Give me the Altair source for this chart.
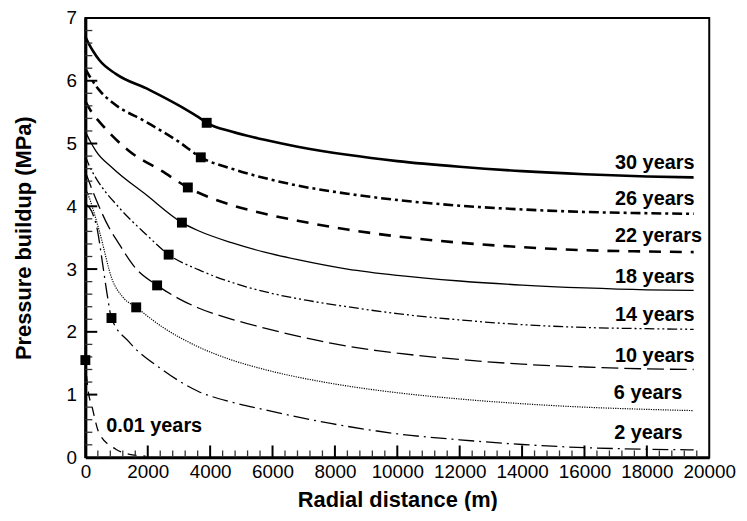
import altair as alt
import pandas as pd

# ---- data ----
x30 = [0, 120, 250, 445, 976, 2035, 3094, 3625, 3890, 4685, 5745, 6805, 8400, 10000, 12000, 14000, 16000, 18000, 19500]
y30 = [6.70, 6.58, 6.47, 6.33, 6.11, 5.86, 5.58, 5.42, 5.33, 5.19, 5.06, 4.95, 4.82, 4.72, 4.63, 4.56, 4.51, 4.475, 4.46]

x26 = [0, 200, 445, 900, 1930, 2990, 3700, 4685, 5745, 6805, 8400, 10000, 12000, 14000, 16000, 18000, 19500]
y26 = [6.19, 6.02, 5.85, 5.64, 5.35, 5.03, 4.78, 4.60, 4.45, 4.33, 4.20, 4.10, 4.01, 3.95, 3.91, 3.89, 3.88]

x22 = [0, 200, 445, 1400, 2460, 3285, 3940, 4685, 5745, 6805, 8400, 10000, 12000, 14000, 16000, 18000, 19500]
y22 = [5.67, 5.50, 5.35, 4.88, 4.56, 4.30, 4.15, 4.02, 3.88, 3.77, 3.63, 3.52, 3.42, 3.35, 3.30, 3.28, 3.27]

x18 = [0, 150, 340, 870, 1930, 3095, 3625, 4685, 5745, 6805, 8400, 10000, 12000, 14000, 16000, 18000, 19500]
y18 = [5.19, 5.04, 4.88, 4.61, 4.19, 3.74, 3.61, 3.42, 3.27, 3.15, 3.00, 2.90, 2.81, 2.745, 2.70, 2.67, 2.66]

x14 = [0, 150, 340, 1080, 1930, 2670, 3625, 5000, 6000, 7125, 8400, 10000, 12000, 14000, 16000, 18000, 19500]
y14 = [4.80, 4.62, 4.45, 3.98, 3.56, 3.23, 2.99, 2.74, 2.61, 2.50, 2.40, 2.29, 2.19, 2.115, 2.07, 2.05, 2.04]

x10 = [0, 150, 350, 760, 1080, 1600, 2300, 2990, 3625, 4700, 5745, 7865, 9350, 10000, 12000, 14000, 16000, 18000, 19500]
y10 = [4.55, 4.35, 4.10, 3.66, 3.40, 3.02, 2.74, 2.53, 2.38, 2.20, 2.06, 1.82, 1.70, 1.66, 1.56, 1.485, 1.44, 1.41, 1.40]

x6 = [0, 130, 445, 870, 1187, 1630, 2460, 3625, 4700, 5745, 7865, 9350, 10000, 12000, 14000, 16000, 18000, 19500]
y6 = [4.30, 4.13, 3.61, 2.82, 2.56, 2.39, 2.08, 1.76, 1.55, 1.40, 1.18, 1.07, 1.03, 0.93, 0.855, 0.80, 0.765, 0.745]

x2 = [0, 200, 390, 551, 710, 837, 1400, 2460, 3625, 4700, 5745, 7865, 9350, 10000, 12000, 14000, 16000, 18000, 19500]
y2 = [4.05, 3.92, 3.61, 3.09, 2.56, 2.22, 1.84, 1.40, 1.05, 0.88, 0.76, 0.54, 0.42, 0.375, 0.28, 0.205, 0.155, 0.13, 0.12]

x001 = [0, 30, 73, 232, 445, 976, 1505, 1930]
y001 = [1.55, 1.35, 1.13, 0.77, 0.38, 0.13, 0.04, 0.02]

marker_x = [3890, 3700, 3285, 3095, 2670, 2300, 1630, 837, 0]
marker_y = [5.33, 4.78, 4.30, 3.74, 3.23, 2.74, 2.39, 2.22, 1.55]

label_text = ["30 years", "26 years", "22 yerars", "18 years", "14 years", "10 years", "6 years", "2 years"]
label_x = [19525, 19525, 19770, 19525, 19525, 19525, 19134, 19144]
label_y = [4.69, 4.11, 3.52, 2.88, 2.27, 1.62, 1.03, 0.39]
label01_text = ["0.01 years"]
label01_x = [668]
label01_y = [0.50]

x_ticks = list(range(0, 20001, 2000))
y_ticks = list(range(0, 8))
x_major = [2000, 4000, 6000, 8000, 10000, 12000, 14000, 16000, 18000]
x_minor = [v for v in range(400, 20000, 400) if v % 2000 != 0]
y_major = [1, 2, 3, 4, 5, 6]
y_minor = [round(i * 0.2, 1) for i in range(1, 35) if i % 5 != 0]

# ---- chart ----
FONT = "Liberation Sans"
W, H = 629, 443
xs = alt.Scale(domain=[0, 20000], nice=False, zero=False)
ys = alt.Scale(domain=[0, 7], nice=False, zero=False)

series = [
    (x30, y30, [], 2.6),
    (x26, y26, [10, 4, 3, 4], 2.6),
    (x22, y22, [12, 9], 2.6),
    (x18, y18, [], 1.3),
    (x14, y14, [10, 3, 2, 3, 2, 3], 1.3),
    (x10, y10, [17, 6], 1.3),
    (x6, y6, [1.2, 1.2], 1.2),
    (x2, y2, [16, 5, 2, 5], 1.3),
    (x001, y001, [9, 7], 1.3),
]

layers = []
first = True
for xv, yv, dash, sw in series:
    df = pd.DataFrame({"x": xv, "y": yv})
    kw = dict(color="black", strokeWidth=sw, interpolate="monotone")
    if dash:
        kw["strokeDash"] = dash
    if first:
        xenc = alt.X("x:Q", scale=xs, title="Radial distance (m)",
                     axis=alt.Axis(values=x_ticks, format="d", labelFlush=False, labelOverlap=False))
        yenc = alt.Y("y:Q", scale=ys, title="Pressure buildup (MPa)",
                     axis=alt.Axis(values=y_ticks, format="d", labelFlush=False, labelOverlap=False))
        first = False
    else:
        xenc = alt.X("x:Q", scale=xs)
        yenc = alt.Y("y:Q", scale=ys)
    layers.append(alt.Chart(df).mark_line(**kw).encode(x=xenc, y=yenc))

# inward ticks
layers.append(alt.Chart(pd.DataFrame({"v": x_minor})).mark_rule(color="#333", strokeWidth=1.3).encode(
    x=alt.X("v:Q", scale=xs), y=alt.value(H), y2=alt.value(H - 7)))
layers.append(alt.Chart(pd.DataFrame({"v": x_major})).mark_rule(color="black", strokeWidth=2).encode(
    x=alt.X("v:Q", scale=xs), y=alt.value(H), y2=alt.value(H - 12)))
layers.append(alt.Chart(pd.DataFrame({"v": y_minor})).mark_rule(color="#333", strokeWidth=1.3).encode(
    y=alt.Y("v:Q", scale=ys), x=alt.value(0), x2=alt.value(7)))
layers.append(alt.Chart(pd.DataFrame({"v": y_major})).mark_rule(color="black", strokeWidth=2).encode(
    y=alt.Y("v:Q", scale=ys), x=alt.value(0), x2=alt.value(12)))

# markers
layers.append(alt.Chart(pd.DataFrame({"x": marker_x, "y": marker_y})).mark_point(
    shape="square", filled=True, color="black", size=100, opacity=1, clip=False).encode(
    x=alt.X("x:Q", scale=xs), y=alt.Y("y:Q", scale=ys)))

# labels
layers.append(alt.Chart(pd.DataFrame({"x": label_x, "y": label_y, "t": label_text})).mark_text(
    align="right", baseline="middle", font=FONT, fontSize=20, fontWeight="bold", color="black").encode(
    x=alt.X("x:Q", scale=xs), y=alt.Y("y:Q", scale=ys), text="t:N"))
layers.append(alt.Chart(pd.DataFrame({"x": label01_x, "y": label01_y, "t": label01_text})).mark_text(
    align="left", baseline="middle", font=FONT, fontSize=20, fontWeight="bold", color="black").encode(
    x=alt.X("x:Q", scale=xs), y=alt.Y("y:Q", scale=ys), text="t:N"))

chart = alt.layer(*layers).properties(
    width=W, height=H,
    autosize=alt.AutoSizeParams(type="none"),
    padding={"left": 78, "top": 8, "right": 30, "bottom": 52},
    background="white",
).configure_view(
    stroke="black", strokeWidth=2
).configure_axis(
    grid=False, ticks=False, domainColor="black", domainWidth=3,
    labelFont=FONT, labelFontSize=19, labelColor="black",
    titleFont=FONT, titleFontSize=22, titleFontWeight="bold", titleColor="black",
).configure_axisBottom(
    labelPadding=5, titleY=43, titleBaseline="middle",
).configure_axisLeft(
    labelPadding=9, titleX=-62, titleY=221.5, titleBaseline="middle", titleAlign="center", titleAngle=270,
)

chart.save("out.html", embed_options={"renderer": "svg", "actions": False})
